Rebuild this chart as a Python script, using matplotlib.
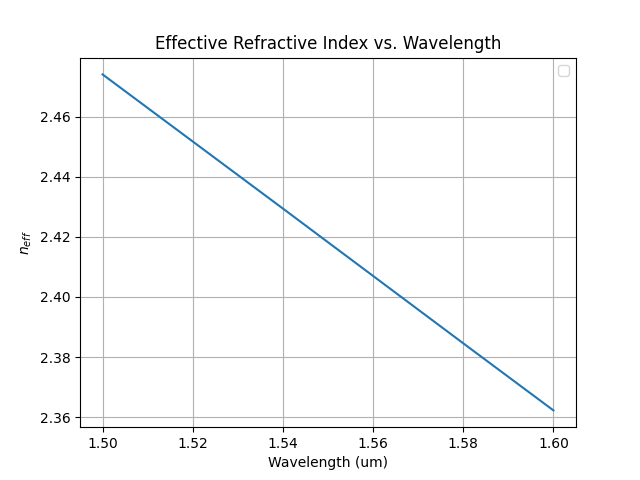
import numpy as np
import matplotlib
matplotlib.use("Agg")
import matplotlib.pyplot as plt

# values
wavelength = [1.50, 1.52, 1.54, 1.56, 1.58, 1.60]
n_eff = [2.4740, 2.4517, 2.4294, 2.4070, 2.3846, 2.3623]

fig, ax = plt.subplots(figsize=(6.4, 4.8), dpi=100)
ax.plot(wavelength, n_eff)
ax.set_xlabel("Wavelength (um)")
ax.set_ylabel(r"$n_{eff}$")
ax.set_title("Effective Refractive Index vs. Wavelength")
ax.grid(True)
ax.legend()

fig.savefig("out.png")
